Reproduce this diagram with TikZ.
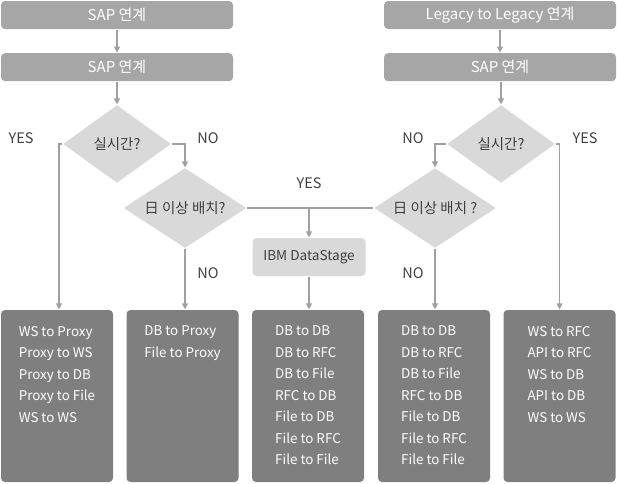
\documentclass[tikz,border=0pt]{standalone}
\usepackage{fontspec}
\setmainfont{Noto Sans CJK KR}
\usepackage{tikz}
\usetikzlibrary{arrows.meta,shapes.geometric,positioning}

\definecolor{topgray}{HTML}{A6A6A6}
\definecolor{decgray}{HTML}{D9D9D9}
\definecolor{listgray}{HTML}{7F7F7F}
\definecolor{linegray}{HTML}{A0A0A0}
\definecolor{txtgray}{HTML}{404040}

\begin{document}
\begin{tikzpicture}[x=1pt,y=1pt,>={Triangle[width=6pt,length=6pt]},
  line width=1.2pt,draw=linegray,
  top node/.style={rectangle,rounded corners=4pt,fill=topgray,text=white,
    minimum width=232pt,minimum height=28pt,font=\fontsize{15}{17}\selectfont},
  dec node/.style={diamond,fill=decgray,text=txtgray,inner sep=0pt,aspect=1.4,
    minimum width=108pt,minimum height=78pt,font=\fontsize{14.5}{16}\selectfont},
  tool node/.style={rectangle,rounded corners=4pt,fill=decgray,text=txtgray,
    minimum width=113pt,minimum height=38pt,font=\fontsize{13.6}{15}\selectfont},
  list node/.style={rectangle,rounded corners=4pt,fill=listgray,
    minimum width=112pt,minimum height=172pt},
  list text/.style={anchor=north,inner sep=0pt,align=left,text=white,
    font=\fontsize{13.4}{21.5}\selectfont},
  yn/.style={text=txtgray,font=\fontsize{14.5}{16}\selectfont}]

  \useasboundingbox (0,0) rectangle (617,-483);

  % left column
  \node[top node] (1) at (117,-15) {SAP 연계};
  \node[top node] (2) [below=23pt of 1] {SAP 연계};
  \node[dec node] (3) at (117,-144) {실시간?};
  \node[dec node,minimum width=123pt,minimum height=80pt,aspect=1.54] (4) at (185,-208) {日 이상 배치?};

  % right column
  \node[top node] (5) at (500,-15) {Legacy to Legacy 연계};
  \node[top node] (6) [below=23pt of 5] {SAP 연계};
  \node[dec node] (7) at (501,-144) {실시간?};
  \node[dec node,minimum width=122pt,minimum height=80pt,aspect=1.54] (8) at (435,-208) {日 이상 배치 ?};

  \node[tool node] (9) at (309,-257) {IBM DataStage};

  % result boxes
  \node[list node] (10) at (57,-396) {};
  \node[list node] (11) at (182.5,-396) {};
  \node[list node] (12) at (308,-396) {};
  \node[list node] (13) at (434,-396) {};
  \node[list node] (14) at (559.5,-396) {};

  \node[list text] (t10) at ([yshift=-16pt]10.north) {WS to Proxy\\Proxy to WS\\Proxy to DB\\Proxy to File\\WS to WS};
  \node[list text] (t11) at ([yshift=-16pt]11.north) {DB to Proxy\\File to Proxy};
  \node[list text] (t12) at ([yshift=-16pt]12.north) {DB to DB\\DB to RFC\\DB to File\\RFC to DB\\File to DB\\File to RFC\\File to File};
  \node[list text] (t13) at ([yshift=-16pt]13.north) {DB to DB\\DB to RFC\\DB to File\\RFC to DB\\File to DB\\File to RFC\\File to File};
  \node[list text] (t14) at ([yshift=-16pt]14.north) {WS to RFC\\API to RFC\\WS to DB\\API to DB\\WS to WS};

  % YES / NO
  \node[yn] (y1) at (21,-138) {YES};
  \node[yn] (n1) at (208,-138) {NO};
  \node[yn] (y2) at (309,-183) {YES};
  \node[yn] (n2) at (208,-273) {NO};
  \node[yn] (n3) at (413,-138) {NO};
  \node[yn] (y3) at (585,-138) {YES};
  \node[yn] (n4) at (413,-273) {NO};

  \coordinate (m) at (4.east -| 9.north);

  \draw[->] (1) -- (2);
  \draw[->] (2) -- (3);
  \draw[->] (3.west) -| ([xshift=2pt]10.north);
  \draw[->] (3.east) -| (4.north);
  \draw[->] (4.south) -- (4.south |- 11.north);
  \draw (4.east) -- (8.west);
  \draw[->] (m) -- (9.north);
  \draw[->] (9.south) -- (9.south |- 12.north);

  \draw[->] (5) -- (6);
  \draw[->] (6.south -| 7.north) -- (7.north);
  \draw[->] (7.west) -| (8.north);
  \draw[->] (7.east) -| (14.north);
  \draw[->] (8.south) -- (8.south |- 13.north);
\end{tikzpicture}
\end{document}
